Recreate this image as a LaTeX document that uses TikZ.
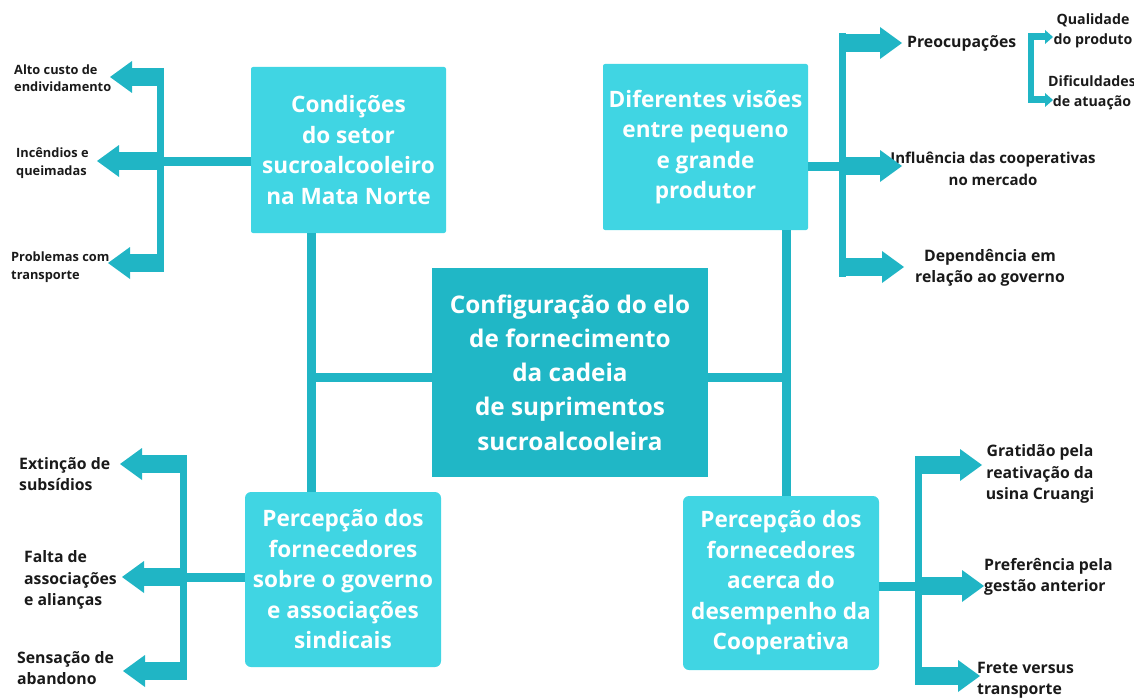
\documentclass[tikz,border=0pt]{standalone}
\usepackage{fontspec}
\setmainfont{Open Sans}
\usetikzlibrary{arrows.meta,positioning}
\definecolor{boxcyan}{HTML}{40D5E3}
\definecolor{hubteal}{HTML}{20B7C6}
\definecolor{linkteal}{HTML}{20B5C5}
\definecolor{labelink}{HTML}{1A1A1A}

\begin{document}
\begin{tikzpicture}[x=1pt, y=-1pt]
\tikzstyle{every node}=[font=\bfseries]
\tikzstyle{topic}=[fill=boxcyan, text=white, align=center, inner sep=0pt, rounded corners=2pt, font=\bfseries\fontsize{22.6}{30.5}\selectfont]
\tikzstyle{hub}=[fill=hubteal, text=white, align=center, inner sep=0pt, font=\bfseries\fontsize{24.3}{34.2}\selectfont]
\tikzstyle{link}=[draw=linkteal, line width=9pt]
\tikzstyle{spine}=[draw=linkteal, line width=7pt]
\tikzstyle{fat}=[draw=linkteal, line width=18pt, -{Triangle[width=32pt, length=22pt, line width=0pt]}]
\tikzstyle{slim}=[draw=linkteal, line width=7pt, -{Triangle[width=14pt, length=8pt, line width=0pt]}]
\tikzstyle{lbl}=[text=labelink, align=left, inner sep=0pt, font=\bfseries\fontsize{15.8}{21.5}\selectfont]
\tikzstyle{lblsmall}=[lbl, font=\bfseries\fontsize{12.8}{17.5}\selectfont]
\tikzstyle{lbltiny}=[lbl, align=center, font=\bfseries\fontsize{14.2}{19.5}\selectfont]
\useasboundingbox (0,0) rectangle (1134,698);

% boxes
\node[hub, minimum width=276pt, minimum height=209pt] (hub) at (570,372.5) {Configuração do elo\\de fornecimento\\da cadeia\\de suprimentos\\sucroalcooleira};
\node[topic, minimum width=195pt, minimum height=166pt] (tl) at (348.5,150) {Condições\\do setor\\sucroalcooleiro\\na Mata Norte};
\node[topic, minimum width=205pt, minimum height=166pt] (tr) at (705.5,147) {Diferentes visões\\entre pequeno\\e grande\\produtor};
\node[topic, rounded corners=6pt, minimum width=196pt, minimum height=175pt] (bl) at (343,579.5) {Percepção dos\\fornecedores\\sobre o governo\\e associações\\sindicais};
\node[topic, rounded corners=6pt, minimum width=196pt, minimum height=174pt] (br) at (781,583) {Percepção dos\\fornecedores\\acerca do\\desempenho da\\Cooperativa};

% labels
\node[lblsmall, anchor=west] (alto) at (14,78) {Alto custo de\\endividamento};
\node[lblsmall, anchor=west] (incend) at (16,163) {Incêndios e\\queimadas};
\node[lblsmall, anchor=west] (probl) at (11,267) {Problemas com\\transporte};
\node[lbl, anchor=west] (preoc) at (907,43) {Preocupações};
\node[lbl, align=center, font=\bfseries\fontsize{15}{21.5}\selectfont] (influ) at (993,169) {Influência das cooperativas\\no mercado};
\node[lbl, align=center] (depend) at (990,268) {Dependência em\\relação ao governo};
\node[lbltiny] (qualid) at (1093,31) {Qualidade\\do produto};
\node[lbltiny] (dificu) at (1092,93) {Dificuldades\\de atuação};
\node[lbl, anchor=west] (extinc) at (19,474) {Extinção de\\subsídios};
\node[lbl, anchor=west] (falta) at (24,580) {Falta de\\associações\\e alianças};
\node[lbl, anchor=west] (sensac) at (17,668) {Sensação de\\abandono};
\node[lbl, align=center] (gratid) at (1040,474) {Gratidão pela\\reativação da\\usina Cruangi};
\node[lbl, anchor=west] (prefer) at (984,577) {Preferência pela\\gestão anterior};
\node[lbl, anchor=west] (frete) at (977,680) {Frete versus\\transporte};

% joints and arrow tips
\coordinate (lj) at (311,377);
\coordinate (rj) at (786,377);
\coordinate (tlbar) at (160,161);
\coordinate (trbar) at (842,166);
\coordinate (blbar) at (183,577);
\coordinate (brbar) at (918,586);
\coordinate (qbar) at (1031,68);
\coordinate (alto-tip) at (110,77);
\coordinate (incend-tip) at (97,161);
\coordinate (probl-tip) at (108,263);
\coordinate (preoc-tip) at (902,43);
\coordinate (influ-tip) at (902,166);
\coordinate (depend-tip) at (904,267);
\coordinate (qualid-tip) at (1053,37);
\coordinate (dificu-tip) at (1053,100);
\coordinate (extinc-tip) at (120,464);
\coordinate (falta-tip) at (122,577);
\coordinate (sensac-tip) at (123,671);
\coordinate (gratid-tip) at (982,465);
\coordinate (prefer-tip) at (984,586);
\coordinate (frete-tip) at (980,676);

% main links
\draw[link] (tl.south -| lj) -- (bl.north -| lj);
\draw[link] (lj) -- (hub.west |- lj);
\draw[link] (tr.south -| rj) -- (br.north -| rj);
\draw[link] (hub.east |- rj) -- (rj);

% top left
\draw[link] (tl.west |- tlbar) -- (tlbar);
\draw[spine] (160,68) -- (160,272);
\draw[fat] (tlbar |- alto-tip) -- (alto-tip);
\draw[fat] (tlbar) -- (incend-tip);
\draw[fat] (tlbar |- probl-tip) -- (probl-tip);

% top right
\draw[link] (tr.east |- trbar) -- (trbar);
\draw[spine] (842,33) -- (842,277);
\draw[fat] (trbar |- preoc-tip) -- (preoc-tip);
\draw[fat] (trbar) -- (influ-tip);
\draw[fat] (trbar |- depend-tip) -- (depend-tip);
\draw[spine, line width=6pt] (1031,33.5) -- (1031,103.5);
\draw[slim] (qbar |- qualid-tip) -- (qualid-tip);
\draw[slim] (qbar |- dificu-tip) -- (dificu-tip);

% bottom left
\draw[link] (bl.west |- blbar) -- (blbar);
\draw[spine] (183,455) -- (183,680);
\draw[fat] (blbar |- extinc-tip) -- (extinc-tip);
\draw[fat] (blbar) -- (falta-tip);
\draw[fat] (blbar |- sensac-tip) -- (sensac-tip);

% bottom right
\draw[link] (br.east |- brbar) -- (brbar);
\draw[spine] (918,456) -- (918,685);
\draw[fat] (brbar |- gratid-tip) -- (gratid-tip);
\draw[fat] (brbar) -- (prefer-tip);
\draw[fat] (brbar |- frete-tip) -- (frete-tip);
\end{tikzpicture}
\end{document}
